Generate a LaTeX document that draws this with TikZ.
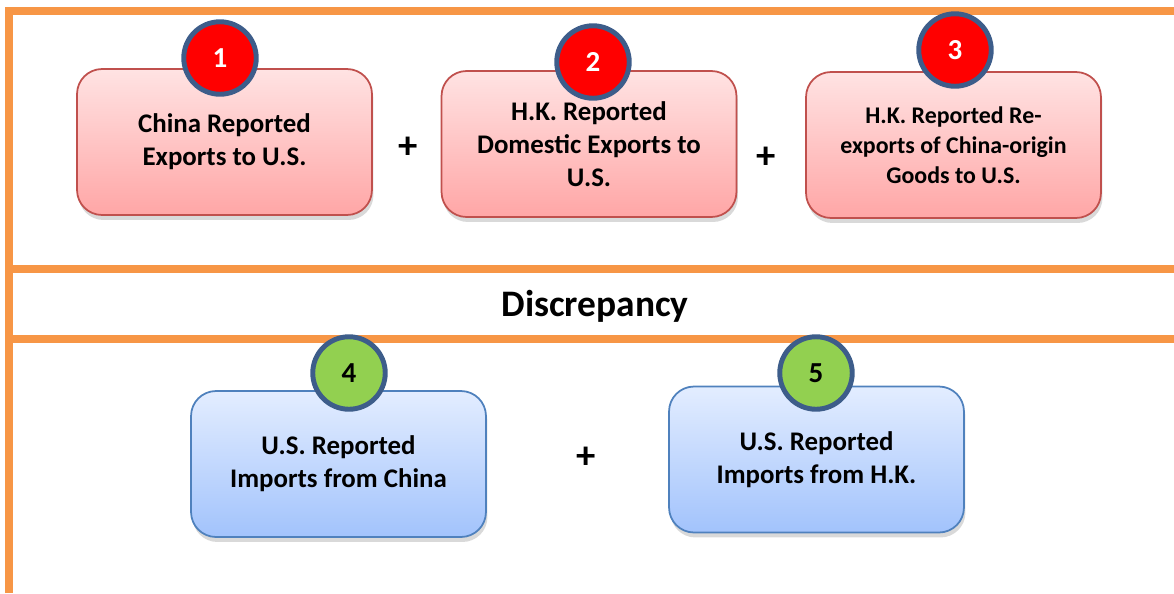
\documentclass[tikz,border=0pt]{standalone}
\usepackage{fontspec}
\setmainfont{Carlito}
\usetikzlibrary{shadows}
\definecolor{frameorange}{HTML}{F79646}
\definecolor{redline}{HTML}{C0504D}
\definecolor{redtop}{HTML}{FFE3E3}
\definecolor{redbot}{HTML}{FFA6A6}
\definecolor{blueline}{HTML}{4F81BD}
\definecolor{bluetop}{HTML}{E3EDFF}
\definecolor{bluebot}{HTML}{A2C3FC}
\definecolor{ringblue}{HTML}{3D5D8A}
\definecolor{numgreen}{HTML}{92D050}
\newcommand{\numb}[1]{\fontsize{16.5}{18}\selectfont\bfseries #1}
\newcommand{\plus}{\fontsize{22}{24}\selectfont\bfseries +}

\begin{document}
\begin{tikzpicture}[x=0.02cm,y=-0.02cm,
   every node/.style={inner sep=0pt},
   card/.style={rectangle,rounded corners=0.5cm,line width=1pt,
                minimum width=5.9cm,minimum height=2.92cm,align=center,
                font=\fontsize{15.3}{18.7}\selectfont\bfseries,
                drop shadow={opacity=0.3,shadow xshift=0.03cm,shadow yshift=-0.1cm}},
   redcard/.style={card,draw=redline,top color=redtop,bottom color=redbot},
   bluecard/.style={card,draw=blueline,top color=bluetop,bottom color=bluebot},
   badge/.style={circle,draw=ringblue,line width=2.8pt,minimum size=1.45cm},
   redbadge/.style={badge,fill=red,text=white},
   greenbadge/.style={badge,fill=numgreen,text=black}]
 \useasboundingbox (0,0) rectangle (1174,593);

 % frame
 \draw[frameorange,line width=4pt] (9,593) -- (9,11) -- (1174,11);
 \draw[frameorange,line width=4pt] (9,269) -- (1174,269);
 \draw[frameorange,line width=4pt] (9,339) -- (1174,339);

 % reported exports
 \draw (224.5,142) node[redcard] (A) {China Reported\\Exports to U.S.};
 \draw (589,144)   node[redcard] (B) {H.K. Reported\\Domestic Exports to\\U.S.};
 \draw (953.5,145) node[redcard,font=\fontsize{13.6}{17}\selectfont\bfseries] (C)
       {H.K. Reported Re-\\exports of China-origin\\Goods to U.S.};

 \draw (220,58)  node[redbadge] (nA) {\numb{1}};
 \draw (593,62)  node[redbadge] (nB) {\numb{2}};
 \draw (955,50)  node[redbadge] (nC) {\numb{3}};

 \draw (408,148) node (pAB) {\plus};
 \draw (766,158) node (pBC) {\plus};

 \draw (595,306) node[font=\fontsize{21.3}{24}\selectfont\bfseries] (D) {Discrepancy};

 % reported imports
 \draw (338.5,464)   node[bluecard] (E) {U.S. Reported\\Imports from China};
 \draw (816.5,459.5) node[bluecard] (F) {U.S. Reported\\Imports from H.K.};

 \draw (349,373) node[greenbadge] (nE) {\numb{4}};
 \draw (816,373) node[greenbadge] (nF) {\numb{5}};

 \draw (586,458) node (pEF) {\plus};
\end{tikzpicture}
\end{document}
